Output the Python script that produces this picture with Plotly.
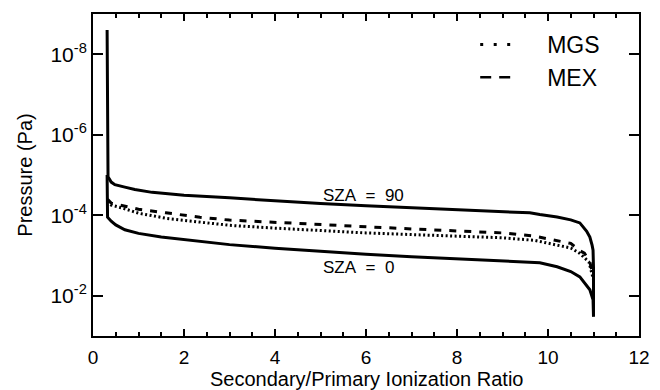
import plotly.graph_objects as go

# ---- data (x = ratio, y = pressure in Pa) ----
sza90_x = [0.31, 0.315, 0.33, 0.40, 0.48, 0.70, 0.92, 1.30, 1.80, 2.0, 3.0, 4.0, 5.0, 6.0,
           7.0, 8.0, 9.0, 9.6, 9.82, 10.2, 10.5, 10.7, 10.85, 10.92, 10.97, 10.99, 11.0, 11.0]
sza90_y = [2.5e-9, 1.0e-6, 1.1e-5, 1.5e-5, 1.74e-5, 2.0e-5, 2.3e-5, 2.7e-5, 3.1e-5, 3.2e-5,
           3.7e-5, 4.4e-5, 5.1e-5, 5.8e-5, 6.5e-5, 7.2e-5, 8.1e-5, 8.7e-5, 9.6e-5, 1.1e-4,
           1.3e-4, 1.55e-4, 2.5e-4, 3.5e-4, 5.6e-4, 7.4e-4, 2.0e-3, 3.3e-2]

sza0_x = [0.31, 0.32, 0.40, 0.50, 0.70, 1.0, 1.5, 2.0, 3.0, 4.0, 5.0, 6.0, 7.0, 8.0, 9.0,
          9.6, 9.82, 10.2, 10.5, 10.7, 10.92, 10.99, 11.0]
sza0_y = [1.0e-5, 1.12e-4, 1.41e-4, 1.74e-4, 2.29e-4, 2.82e-4, 3.47e-4, 4.07e-4, 5.37e-4,
          6.61e-4, 7.94e-4, 9.33e-4, 1.07e-3, 1.2e-3, 1.35e-3, 1.45e-3, 1.51e-3, 1.9e-3,
          2.5e-3, 3.4e-3, 7.1e-3, 1.26e-2, 3.3e-2]

mex_x = [0.32, 0.40, 0.60, 1.0, 1.6, 2.35, 3.0, 4.0, 5.2, 6.0, 7.0, 8.0, 9.0, 9.7, 10.2,
         10.5, 10.7, 10.8, 10.92, 11.0]
mex_y = [4.0e-5, 5.0e-5, 5.6e-5, 7.1e-5, 8.7e-5, 1.12e-4, 1.32e-4, 1.51e-4, 1.78e-4,
         1.95e-4, 2.19e-4, 2.45e-4, 2.75e-4, 3.3e-4, 4.2e-4, 5.0e-4, 7.6e-4, 8.7e-4,
         1.45e-3, 3.5e-3]

mgs_x = [0.32, 0.40, 0.64, 1.0, 1.63, 2.35, 3.0, 4.0, 5.2, 6.0, 7.0, 8.0, 9.0, 9.7, 10.5,
         10.7, 10.9, 11.0]
mgs_y = [4.5e-5, 5.6e-5, 6.6e-5, 8.9e-5, 1.2e-4, 1.48e-4, 1.78e-4, 2.09e-4, 2.51e-4,
         2.75e-4, 3.02e-4, 3.31e-4, 3.63e-4, 4.2e-4, 6.5e-4, 8.9e-4, 1.45e-3, 4.0e-3]

ytick_vals = [1e-8, 1e-6, 1e-4, 1e-2]
ytick_text = ["10<sup>-8</sup>", "10<sup>-6</sup>", "10<sup>-4</sup>", "10<sup>-2</sup>"]
x_title = "Secondary/Primary Ionization Ratio"
y_title = "Pressure (Pa)"

FONT = "Liberation Sans"
NB = "\u00a0"
fig = go.Figure()

fig.add_trace(go.Scatter(x=sza90_x, y=sza90_y, mode="lines", showlegend=False,
                         line=dict(color="black", width=3)))
fig.add_trace(go.Scatter(x=sza0_x, y=sza0_y, mode="lines", showlegend=False,
                         line=dict(color="black", width=3)))
fig.add_trace(go.Scatter(x=mex_x, y=mex_y, mode="lines", showlegend=False,
                         line=dict(color="black", width=3, dash="7px,8px")))
fig.add_trace(go.Scatter(x=mgs_x, y=mgs_y, mode="lines", showlegend=False,
                         line=dict(color="black", width=3, dash="2px,2.5px")))

# legend entries (styled like the reference legend)
fig.add_trace(go.Scatter(x=[None], y=[None], mode="lines", name=NB * 5 + "MGS",
                         line=dict(color="black", width=3, dash="3px,10.5px")))
fig.add_trace(go.Scatter(x=[None], y=[None], mode="lines", name=NB * 5 + "MEX",
                         line=dict(color="black", width=2.5, dash="11px,8px")))

fig.add_annotation(x=5.0, y=-4.5, text="SZA" + NB * 2 + "=" + NB * 2 + "90", showarrow=False,
                   xanchor="left", yanchor="middle", font=dict(family=FONT, size=17, color="black"))
fig.add_annotation(x=5.0, y=-2.69, text="SZA" + NB * 2 + "=" + NB * 2 + "0", showarrow=False,
                   xanchor="left", yanchor="middle", font=dict(family=FONT, size=17, color="black"))
# x-axis title placed as paper annotation just under the tick labels
fig.add_annotation(x=0.5, xref="paper", y=-0.132, yref="paper", text=x_title, showarrow=False,
                   xanchor="center", yanchor="middle", font=dict(family=FONT, size=20, color="black"))

fig.update_layout(
    width=660, height=390,
    margin=dict(l=93, r=21, t=14, b=54),
    paper_bgcolor="white", plot_bgcolor="white",
    font=dict(family=FONT, color="black"),
    legend=dict(x=0.70, y=0.972, xanchor="left", yanchor="top",
                font=dict(family=FONT, size=23, color="black"),
                bgcolor="rgba(0,0,0,0)", itemclick=False),
)
fig.update_xaxes(
    range=[0, 12], tickmode="linear", tick0=0, dtick=2, ticks="inside", ticklen=7, tickwidth=2,
    tickcolor="black", showline=True, linecolor="black", linewidth=2, mirror="ticks",
    showgrid=False, zeroline=False, tickfont=dict(family=FONT, size=19),
    ticklabelstandoff=3, automargin=False,
    minor=dict(tick0=0, dtick=0.5, ticks="inside", ticklen=4, tickwidth=1.5, tickcolor="black", showgrid=False),
)
fig.update_yaxes(
    type="log", range=[-1, -9], tickvals=ytick_vals, ticktext=ytick_text,
    ticks="inside", ticklen=10, tickwidth=2, tickcolor="black", automargin=False,
    showline=True, linecolor="black", linewidth=2, mirror="ticks",
    showgrid=False, zeroline=False, tickfont=dict(family=FONT, size=21),
    title=dict(text=y_title, font=dict(family=FONT, size=20), standoff=12),
)

fig.write_html("out.html")
